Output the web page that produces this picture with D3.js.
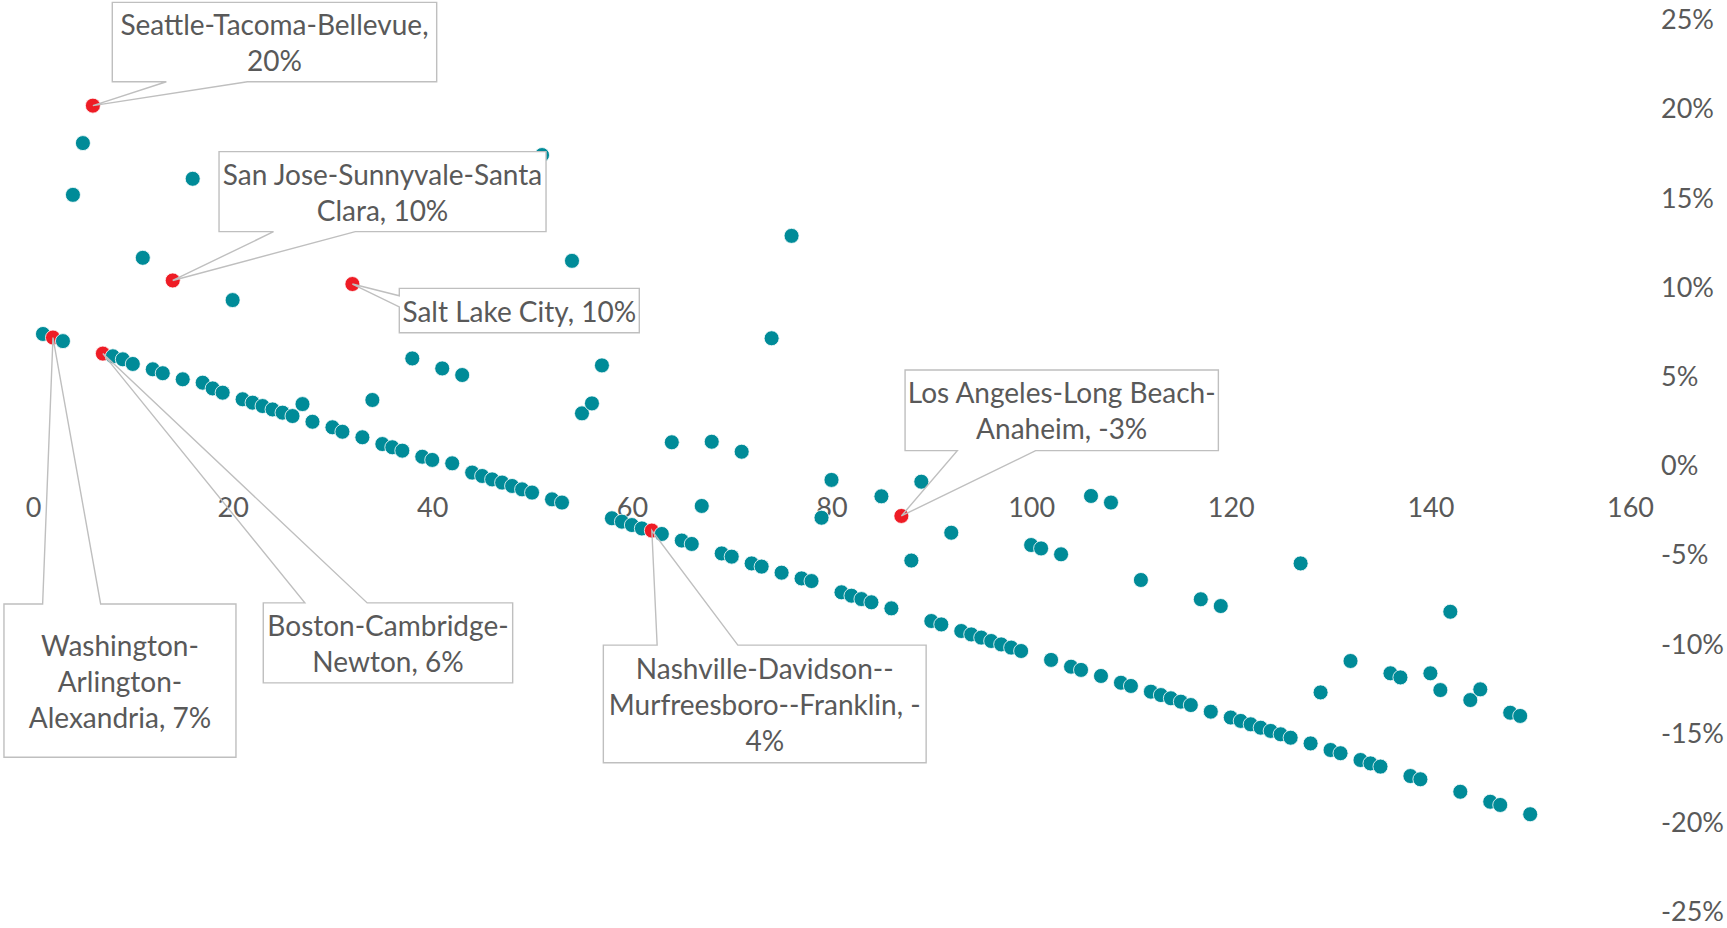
<!DOCTYPE html>
<html><head><meta charset="utf-8">
<script src="https://cdn.jsdelivr.net/npm/d3@7"></script>
<style>
html,body{margin:0;padding:0;background:#fff;}
svg{display:block;}
text{font-family:Lato,"Open Sans",sans-serif;fill:#595959;}
</style></head><body>
<svg id="chart" width="1727" height="928"></svg>
<script>
// ---- data ----
const ranks = [1,2,3,4,5,6,7,8,9,10,11,12,13,14,15,16,17,18,19,20,21,22,23,24,25,26,27,28,30,
  31,32,33,34,35,36,37,38,39,40,41,42,43,44,45,46,47,48,49,50,51,52,53,54,55,56,57,58,59,60,
  61,62,63,64,65,66,67,68,69,70,71,72,73,74,75,76,77,78,79,80,81,82,83,84,85,86,87,88,89,90,
  91,92,93,94,95,96,97,98,99,100,101,102,103,104,105,106,107,108,109,110,111,112,113,114,115,
  116,117,118,119,120,121,122,123,124,125,126,127,128,129,130,131,132,133,134,135,136,137,138,
  139,140,141,142,143,144,145,146,147,148,149,150];
const growthPct = [7.4,7.2,7.0,15.2,18.1,20.2,6.3,6.15,5.98,5.72,11.67,5.42,5.2,10.4,4.86,16.1,4.67,4.35,4.11,9.3,
  3.74,3.55,3.36,3.17,2.99,2.8,3.47,2.48,2.17,
  1.92,10.2,1.61,3.7,1.23,1.05,0.86,6.03,0.52,0.34,5.47,0.15,5.1,-0.37,-0.56,-0.75,-0.93,-1.12,-1.31,-1.49,
  17.43,-1.87,-2.05,11.5,2.95,3.51,5.64,-2.93,-3.12,-3.31,
  -3.5,-3.62,-3.81,1.33,-4.18,-4.37,-2.24,1.36,-4.9,-5.08,0.8,-5.46,-5.64,7.16,-5.98,12.9,-6.3,-6.45,-2.9,-0.78,
  -7.08,-7.27,-7.46,-7.64,-1.7,-7.98,-2.8,-5.3,-0.88,-8.69,
  -8.88,-3.74,-9.25,-9.44,-9.62,-9.81,-10.0,-10.18,-10.37,-4.43,-4.62,-10.87,-4.95,-11.25,-11.43,-1.68,-11.77,-2.05,-12.15,-12.33,
  -6.39,-12.65,-12.84,-13.02,-13.21,-13.4,-7.47,-13.77,-7.85,-14.1,
  -14.29,-14.48,-14.67,-14.85,-15.04,-15.23,-5.46,-15.55,-12.69,-15.92,-16.1,-10.93,-16.48,-16.67,-16.85,-11.62,-11.85,-17.38,
  -17.56,-11.62,-12.56,-8.17,-18.26,-13.12,-12.52,-18.82,-19.0,-13.83,-14.01,-19.52];
const highlightRanks = [2,6,7,14,32,62,87];
const highlightNames = ["Washington-Arlington-Alexandria","Seattle-Tacoma-Bellevue","Boston-Cambridge-Newton",
  "San Jose-Sunnyvale-Santa Clara","Salt Lake City","Nashville-Davidson--Murfreesboro--Franklin","Los Angeles-Long Beach-Anaheim"];
const xTickValues = [0,20,40,60,80,100,120,140,160];
const yTickValues = [-0.25,-0.2,-0.15,-0.1,-0.05,0,0.05,0.1,0.15,0.2,0.25];

// ---- layout / style ----
const COLORS = {base:"#008B98", highlight:"#EE1C25", text:"#595959", callout:"#BFBFBF"};
const R = 7.5;
// callout boxes: offsets relative to the point (dx, dy, w, h) and wrapped lines
const callouts = [
  {rank:6,  lines:["Seattle-Tacoma-Bellevue,","20%"], box:[19.4,-103.3,324.4,79.4]},
  {rank:14, lines:["San Jose-Sunnyvale-Santa","Clara, 10%"], box:[46.3,-128.8,327,80]},
  {rank:32, lines:["Salt Lake City, 10%"], box:[46.9,4.3,240,44.4]},
  {rank:2,  lines:["Washington-","Arlington-","Alexandria, 7%"], box:[-49,266.4,232,153.3]},
  {rank:7,  lines:["Boston-Cambridge-","Newton, 6%"], box:[160.4,249.3,249.4,80]},
  {rank:62, lines:["Nashville-Davidson--","Murfreesboro--Franklin, -","4%"], box:[-48.5,114.5,322.8,117.6]},
  {rank:87, lines:["Los Angeles-Long Beach-","Anaheim, -3%"], box:[3.7,-146,313.3,80.7]}
];

const data = ranks.map((r,i)=>({rank:r, value:growthPct[i]/100,
  highlight: highlightRanks.includes(r)}));

const svg = d3.select("#chart");
const x = d3.scaleLinear().domain([0,160]).range([33,1630]);
const y = d3.scaleLinear().domain([-0.25,0.25]).range([912,20]);

const loc = d3.formatLocale({decimal:".",thousands:",",grouping:[3],currency:["$",""],minus:"-"});
const pct = loc.format(".0%");

// x axis (no line, labels only)
const gx = svg.append("g").attr("transform",`translate(0,${y(0)})`)
  .call(d3.axisBottom(x).tickValues(xTickValues).tickSize(0).tickPadding(32).tickFormat(d3.format("d")));
gx.select(".domain").remove();
gx.selectAll("text").attr("font-family","Lato").attr("font-size",27).attr("fill",COLORS.text);

// y axis on the right
const gy = svg.append("g").attr("transform",`translate(1651,0)`)
  .call(d3.axisRight(y).tickValues(yTickValues).tickSize(0).tickPadding(10).tickFormat(pct));
gy.select(".domain").remove();
gy.selectAll("text").attr("font-family","Lato").attr("font-size",27).attr("fill",COLORS.text);

// points
svg.append("g").selectAll("circle").data(data).join("circle")
  .attr("cx",d=>x(d.rank)).attr("cy",d=>y(d.value)).attr("r",R)
  .attr("fill",d=>d.highlight?COLORS.highlight:COLORS.base)
  .attr("stroke","#fff").attr("stroke-width",0.8);

// callouts (Excel wedgeRectCallout geometry)
function wedgePath(l,t,w,h,px,py){
  const r=l+w,b=t+h,hc=l+w/2,vc=t+h/2;
  const dxPos=px-hc, dyPos=py-vc;
  const dx=dxPos*h, dy=dyPos*w;
  const onTB=Math.abs(dy)>Math.abs(dx);
  const x1=l+w*(dxPos>0?7:2)/12, x2=l+w*(dxPos>0?10:5)/12;
  const y1=t+h*(dyPos>0?7:2)/12, y2=t+h*(dyPos>0?10:5)/12;
  const p=d3.path();
  p.moveTo(l,t);
  if(onTB&&dy<0){p.lineTo(x1,t);p.lineTo(px,py);p.lineTo(x2,t);}
  p.lineTo(r,t);
  if(!onTB&&dx>0){p.lineTo(r,y1);p.lineTo(px,py);p.lineTo(r,y2);}
  p.lineTo(r,b);
  if(onTB&&dy>0){p.lineTo(x2,b);p.lineTo(px,py);p.lineTo(x1,b);}
  p.lineTo(l,b);
  if(!onTB&&dx<0){p.lineTo(l,y2);p.lineTo(px,py);p.lineTo(l,y1);}
  p.closePath();
  return p.toString();
}
const LH = 36;
const gc = svg.append("g");
callouts.forEach(c=>{
  const d = data.find(e=>e.rank===c.rank);
  const px=x(d.rank), py=y(d.value);
  const [dx,dy,w,h]=c.box;
  const l=px+dx, t=py+dy;
  gc.append("rect").attr("x",l).attr("y",t).attr("width",w).attr("height",h).attr("fill","#fff");
  gc.append("path").attr("d",wedgePath(l,t,w,h,px,py))
    .attr("fill","none").attr("stroke",COLORS.callout).attr("stroke-width",1.4);
  const cy = t+h/2+1, n=c.lines.length;
  const txt = gc.append("text").attr("text-anchor","middle").attr("font-size",28).attr("fill",COLORS.text);
  c.lines.forEach((s,i)=>{
    txt.append("tspan").attr("x",l+w/2).attr("y",cy+(i-(n-1)/2)*LH).attr("dy","0.36em").text(s);
  });
});
</script>
</body></html>
